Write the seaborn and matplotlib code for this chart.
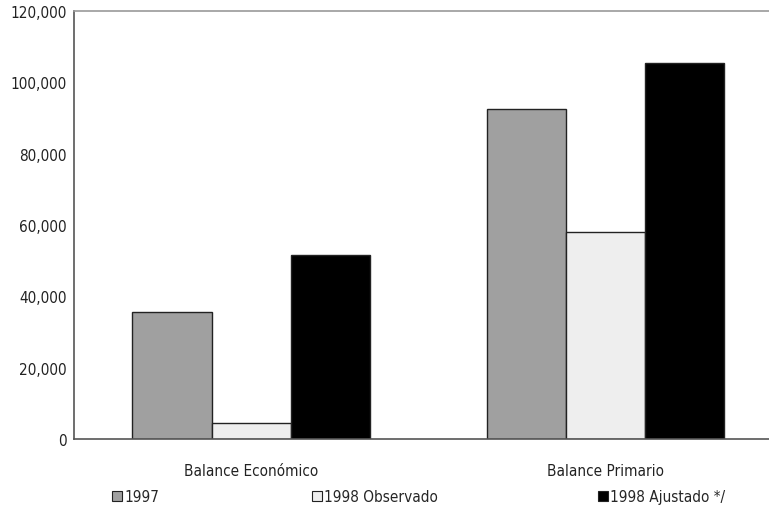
import matplotlib
matplotlib.use("Agg")
import matplotlib.pyplot as plt
import seaborn as sns
import pandas as pd
from matplotlib.patches import Patch
from matplotlib.ticker import FuncFormatter

categories = ["Balance Económico", "Balance Primario"]
series = ["1997", "1998 Observado", "1998 Ajustado */"]
values_1997 = [35600, 92500]
values_1998_obs = [4400, 58000]
values_1998_aj = [51600, 105400]
colors = ["#a0a0a0", "#eeeeee", "#000000"]
yticks = [0, 20000, 40000, 60000, 80000, 100000, 120000]

rows = []
for s, vals in zip(series, [values_1997, values_1998_obs, values_1998_aj]):
    for c, v in zip(categories, vals):
        rows.append({"cat": c, "serie": s, "valor": v})
df = pd.DataFrame(rows)

sns.set_style("white")
plt.rcParams["font.family"] = ["DejaVu Sans"]
plt.rcParams["font.stretch"] = "condensed"

fig = plt.figure(figsize=(7.69, 5.10), dpi=100)
ax = fig.add_axes([74/769, 70/510, 708.5/769, 428/510])

sns.barplot(data=df, x="cat", y="valor", hue="serie", order=categories,
            hue_order=series, palette=colors, width=0.67, ax=ax,
            edgecolor="#222222", linewidth=1.0, legend=False)

ax.set_xlim(-0.5, 1.5)
ax.set_ylim(0, 120000)
ax.set_yticks(yticks)
ax.yaxis.set_major_formatter(FuncFormatter(lambda v, p: f"{int(v):,}"))
ax.set_xlabel("")
ax.set_ylabel("")
ax.tick_params(axis="y", length=4, width=1, color="#555555", pad=1, labelsize=11, labelcolor="#222222")
ax.tick_params(axis="x", which="major", length=0, pad=17, labelsize=11, labelcolor="#222222")
ax.set_xticks([0.5], minor=True)
ax.tick_params(axis="x", which="minor", length=4, width=1, color="#555555")

for side in ["left", "bottom", "top"]:
    ax.spines[side].set_visible(True)
ax.spines["left"].set_color("#555555")
ax.spines["bottom"].set_color("#555555")
ax.spines["top"].set_color("#999999")
ax.spines["right"].set_visible(False)
for sp in ax.spines.values():
    sp.set_linewidth(1.2)

xpos = [112, 312, 598]
for c, s, xp in zip(colors, series, xpos):
    h = Patch(facecolor=c, edgecolor="#222222", linewidth=0.8)
    fig.legend([h], [s], loc="center left", bbox_to_anchor=(xp/769, 1 - 498/510),
               frameon=False, fontsize=11, handlelength=0.65, handleheight=0.65,
               handletextpad=0.15, borderaxespad=0, borderpad=0)

fig.savefig("out.png", dpi=100)
